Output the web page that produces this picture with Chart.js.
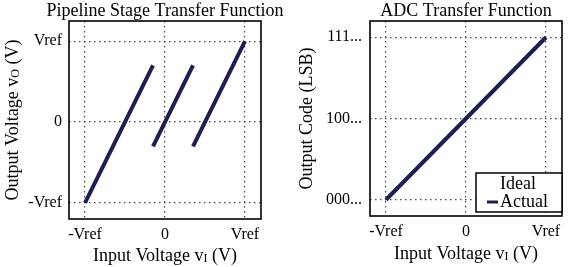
<!DOCTYPE html>
<html>
<head>
<meta charset="utf-8">
<script src="https://cdn.jsdelivr.net/npm/chart.js@4.4.1/dist/chart.umd.min.js"></script>
<style>
  html, body { margin: 0; padding: 0; background: #fff; }
  body { width: 573px; height: 267px; position: relative; overflow: hidden; }
  .panel { position: absolute; top: 0; height: 267px; }
  #stagePanel { left: 0; width: 290px; }
  #adcPanel { left: 290px; width: 283px; }
</style>
</head>
<body>
<div class="panel" id="stagePanel"><canvas id="stageChart"></canvas></div>
<div class="panel" id="adcPanel"><canvas id="adcChart"></canvas></div>
<script>
// tick positions and labels
const voltTicks = [-1, 0, 1];
const voltTickLabels = ['-Vref', '0', 'Vref'];
const codeTicks = [0, 0.5, 1];
const codeTickLabels = ['000...', '100...', '111...'];

// pipeline stage residue: three segments with gain of 2
const seg1X = [-1, -0.15];
const seg1Y = [-1, 0.7];
const seg2X = [-0.15, 0.35];
const seg2Y = [-0.3, 0.7];
const seg3X = [0.35, 1];
const seg3Y = [-0.3, 1];

// ADC transfer function
const adcX = [-1, 1];
const adcIdeal = [0, 1];
const adcActual = [0, 1];

const LINE_COLOR = '#1c1f4f';
const SERIF = "'Liberation Serif', 'DejaVu Serif', serif";
const MAIN_FONT = '18px ' + SERIF;
const SUB_FONT = '12px ' + SERIF;

const pts = (xs, ys) => xs.map((x, i) => ({ x: x, y: ys[i] }));

function makeScale(min, max, values, labels, pad, fitSize, isX) {
  return {
    type: 'linear',
    min: min,
    max: max,
    afterBuildTicks: s => { s.ticks = values.map(v => ({ value: v })); },
    afterFit: s => {
      if (isX) s.height = fitSize; else s.width = fitSize;
    },
    ticks: {
      color: '#000',
      padding: pad,
      font: { family: SERIF, size: 16 },
      callback: v => {
        const i = values.indexOf(v);
        return i >= 0 ? labels[i] : '';
      }
    },
    grid: { color: '#444', lineWidth: 1.2, drawTicks: false },
    border: { display: false, dash: [1.5, 3.5] }
  };
}

function drawRich(ctx, parts, cx, cy, angle) {
  ctx.save();
  ctx.translate(cx, cy);
  ctx.rotate(angle);
  ctx.textBaseline = 'middle';
  ctx.textAlign = 'left';
  ctx.fillStyle = '#000';
  let total = 0;
  parts.forEach(p => {
    ctx.font = p.sub ? SUB_FONT : MAIN_FONT;
    total += ctx.measureText(p.t).width;
  });
  let x = -total / 2;
  parts.forEach(p => {
    ctx.font = p.sub ? SUB_FONT : MAIN_FONT;
    ctx.fillText(p.t, x, p.sub ? 3 : 0);
    x += ctx.measureText(p.t).width;
  });
  ctx.restore();
}

// frame, chart title and axis titles
const decorPlugin = {
  id: 'decor',
  afterDraw(chart, args, opts) {
    const { ctx, chartArea: a } = chart;
    ctx.save();
    ctx.strokeStyle = '#000';
    ctx.lineWidth = 1.6;
    ctx.strokeRect(a.left, a.top, a.right - a.left, a.bottom - a.top);
    ctx.restore();
    const cx = (a.left + a.right) / 2;
    drawRich(ctx, [{ t: opts.title }], cx, opts.titleY, 0);
    drawRich(ctx, opts.xTitle, cx, opts.xTitleY, 0);
    drawRich(ctx, opts.yTitle, opts.yTitleX, (a.top + a.bottom) / 2, -Math.PI / 2);
  }
};

// boxed legend inside the plot area
const boxLegendPlugin = {
  id: 'boxLegend',
  afterDraw(chart, args, opts) {
    if (!opts.show) return;
    const ctx = chart.ctx;
    const b = opts.box;
    ctx.save();
    ctx.fillStyle = '#fff';
    ctx.fillRect(b[0], b[1], b[2], b[3]);
    ctx.strokeStyle = '#000';
    ctx.lineWidth = 1.5;
    ctx.strokeRect(b[0], b[1], b[2], b[3]);
    chart.data.datasets.forEach((ds, i) => {
      const y = b[1] + 11 + i * 18;
      ctx.strokeStyle = ds.borderColor;
      ctx.lineWidth = 3;
      ctx.beginPath();
      ctx.moveTo(b[0] + 11, y);
      ctx.lineTo(b[0] + 22, y);
      ctx.stroke();
      ctx.fillStyle = '#000';
      ctx.font = MAIN_FONT;
      ctx.textBaseline = 'middle';
      ctx.textAlign = 'left';
      ctx.fillText(ds.label, b[0] + 24, y);
    });
    ctx.restore();
  }
};

Chart.register(decorPlugin, boxLegendPlugin);

function lineSet(label, data, color, width, order) {
  return {
    label: label,
    data: data,
    showLine: true,
    borderColor: color,
    backgroundColor: color,
    borderWidth: width,
    pointRadius: 0,
    order: order
  };
}

new Chart(document.getElementById('stageChart'), {
  type: 'scatter',
  data: {
    datasets: [
      lineSet('seg1', pts(seg1X, seg1Y), LINE_COLOR, 4, 0),
      lineSet('seg2', pts(seg2X, seg2Y), LINE_COLOR, 4, 0),
      lineSet('seg3', pts(seg3X, seg3Y), LINE_COLOR, 4, 0)
    ]
  },
  options: {
    responsive: true,
    maintainAspectRatio: false,
    animation: false,
    layout: { padding: { left: 0, right: 29, top: 21, bottom: 0 } },
    scales: {
      x: makeScale(-1.2, 1.2, voltTicks, voltTickLabels, 6, 48, true),
      y: makeScale(-1.2, 1.25, voltTicks, voltTickLabels, 7, 69, false)
    },
    plugins: {
      legend: { display: false },
      tooltip: { enabled: false },
      decor: {
        title: 'Pipeline Stage Transfer Function',
        titleY: 11,
        xTitle: [{ t: 'Input Voltage v' }, { t: 'I', sub: true }, { t: ' (V)' }],
        xTitleY: 256,
        yTitle: [{ t: 'Output Voltage v' }, { t: 'O', sub: true }, { t: ' (V)' }],
        yTitleX: 13
      },
      boxLegend: { show: false }
    }
  }
});

new Chart(document.getElementById('adcChart'), {
  type: 'scatter',
  data: {
    datasets: [
      lineSet('Ideal', pts(adcX, adcIdeal), '#ffffff', 2, 1),
      lineSet('Actual', pts(adcX, adcActual), LINE_COLOR, 4, 0)
    ]
  },
  options: {
    responsive: true,
    maintainAspectRatio: false,
    animation: false,
    layout: { padding: { left: 0, right: 11, top: 21, bottom: 0 } },
    scales: {
      x: makeScale(-1.2, 1.2, voltTicks, voltTickLabels, 6, 51, true),
      y: makeScale(-0.1, 1.1, codeTicks, codeTickLabels, 8, 80, false)
    },
    plugins: {
      legend: { display: false },
      tooltip: { enabled: false },
      decor: {
        title: 'ADC Transfer Function',
        titleY: 11,
        xTitle: [{ t: 'Input Voltage v' }, { t: 'I', sub: true }, { t: ' (V)' }],
        xTitleY: 254,
        yTitle: [{ t: 'Output Code (LSB)' }],
        yTitleX: 17
      },
      boxLegend: { show: true, box: [186, 173, 86, 39] }
    }
  }
});
</script>
</body>
</html>
